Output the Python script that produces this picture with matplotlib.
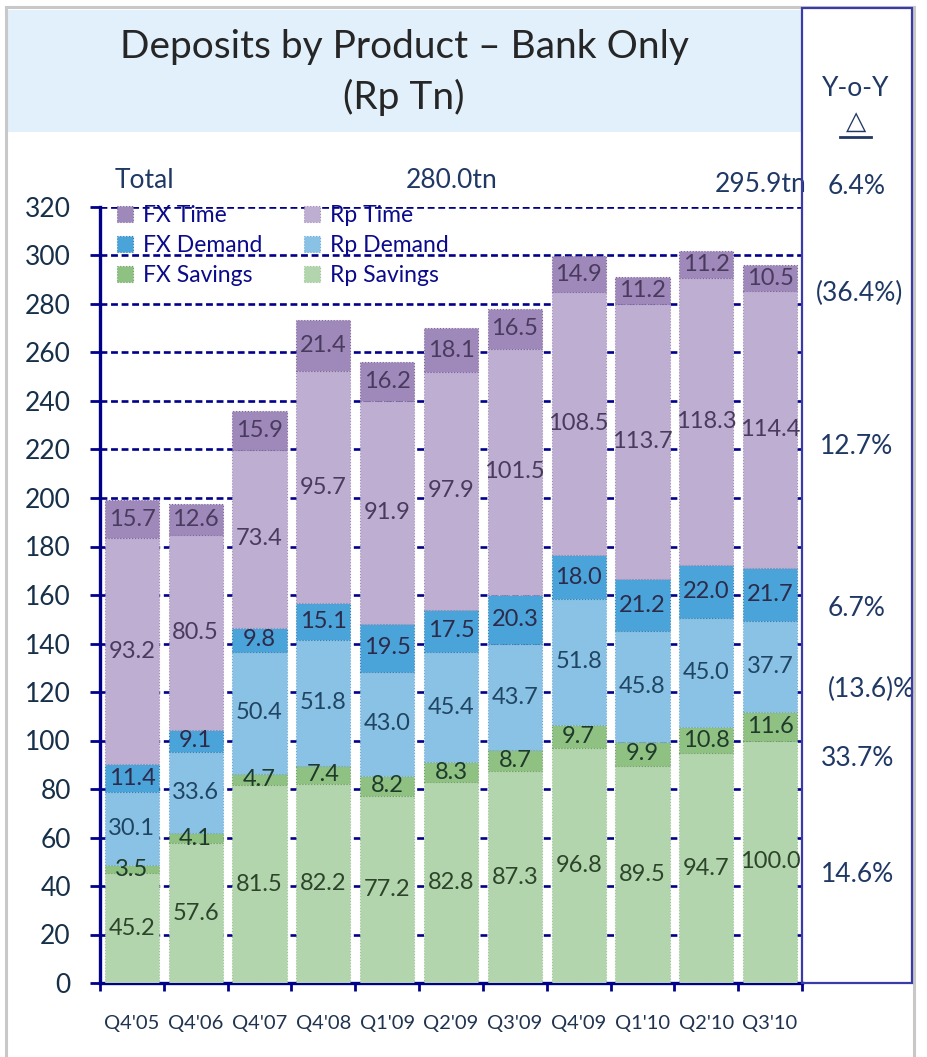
import matplotlib
matplotlib.use("Agg")
import matplotlib.pyplot as plt
from matplotlib.patches import Rectangle
from matplotlib.lines import Line2D
import numpy as np

plt.rcParams['font.family'] = ['Lato', 'DejaVu Sans']

# ---------------- data ----------------
categories = ["Q4'05", "Q4'06", "Q4'07", "Q4'08", "Q1'09", "Q2'09",
              "Q3'09", "Q4'09", "Q1'10", "Q2'10", "Q3'10"]
rp_savings = [45.2, 57.6, 81.5, 82.2, 77.2, 82.8, 87.3, 96.8, 89.5, 94.7, 100.0]
fx_savings = [3.5, 4.1, 4.7, 7.4, 8.2, 8.3, 8.7, 9.7, 9.9, 10.8, 11.6]
rp_demand = [30.1, 33.6, 50.4, 51.8, 43.0, 45.4, 43.7, 51.8, 45.8, 45.0, 37.7]
fx_demand = [11.4, 9.1, 9.8, 15.1, 19.5, 17.5, 20.3, 18.0, 21.2, 22.0, 21.7]
rp_time = [93.2, 80.5, 73.4, 95.7, 91.9, 97.9, 101.5, 108.5, 113.7, 118.3, 114.4]
fx_time = [15.7, 12.6, 15.9, 21.4, 16.2, 18.1, 16.5, 14.9, 11.2, 11.2, 10.5]

series_names = ["Rp Savings", "FX Savings", "Rp Demand", "FX Demand", "Rp Time", "FX Time"]
series_values = [rp_savings, fx_savings, rp_demand, fx_demand, rp_time, fx_time]

yoy_labels = ["6.4%", "(36.4%)", "12.7%", "6.7%", "(13.6)%", "33.7%", "14.6%"]
totals_labels = ["Total", "280.0tn", "295.9tn"]
yticks = list(range(0, 321, 20))

# ---------------- style ----------------
colors = ["#B3D5AD", "#8FC183", "#8AC2E6", "#4BA4D9", "#BEAED2", "#9F88BA"]
edgecols = ["#9CC394", "#6E9E62", "#6FAAD2", "#357FB0", "#A08CB8", "#7D6799"]
textcols = ["#2C452A", "#1F3A2A", "#1F4563", "#2D2A4A", "#4A3B5E", "#4A3B5E"]
navy = "#00008B"
txtnavy = "#1F3864"

W, H = 927, 1057
fig = plt.figure(figsize=(W / 100, H / 100), dpi=100)
fx = lambda x: x / W
fy = lambda y: 1 - y / H

# outer light frame
for (x0, y0, x1, y1) in [(6, 7, 6, H), (914, 7, 914, H), (6, 7, 914, 7)]:
    fig.add_artist(Line2D([fx(x0), fx(x1)], [fy(y0), fy(y1)], color="#C8C8C8", lw=2.2,
                          transform=fig.transFigure))

# title band
fig.add_artist(Rectangle((fx(8), fy(132)), fx(802) - fx(8), fy(10) - fy(132),
                         transform=fig.transFigure, facecolor="#E2F0FC", edgecolor="none", zorder=0))
fig.text(fx(404), fy(47), "Deposits by Product \u2013 Bank Only", ha="center", va="center",
         fontsize=28, color="#262626")
fig.text(fx(404), fy(97), "(Rp Tn)", ha="center", va="center", fontsize=28, color="#262626")

# right Y-o-Y panel
fig.add_artist(Rectangle((fx(802), fy(983)), fx(912) - fx(802), fy(8) - fy(983),
                         transform=fig.transFigure, facecolor="none", edgecolor="#3A3AA8",
                         lw=1.6, zorder=5))

# axes
ax = fig.add_axes([fx(100), fy(983), fx(802) - fx(100), fy(207) - fy(983)])
x = np.arange(len(categories))
bottom = np.zeros(len(categories))
containers = []
for name, vals, c, ec, tc in zip(series_names, series_values, colors, edgecols, textcols):
    vals = np.array(vals)
    bc = ax.bar(x, vals, bottom=bottom, width=0.85, color=c, edgecolor=ec,
                linewidth=0.8, linestyle=":", label=name, zorder=3)
    containers.append(bc)
    ax.bar_label(bc, labels=[f"{v:.1f}" for v in vals], label_type="center",
                 fontsize=17, color=tc, zorder=4)
    bottom = bottom + vals

ax.set_xlim(-0.5, len(categories) - 0.5)
ax.set_ylim(0, 320)
ax.set_yticks(yticks)
ax.set_xticks(x)
ax.set_xticklabels(categories, fontsize=14.5, color="#1F3350")
ax.set_xticks(np.arange(-0.5, len(categories), 1.0), minor=True)
ax.tick_params(axis="x", which="major", length=0, pad=23)
ax.tick_params(axis="x", which="minor", length=6, width=2, color=navy, direction="out")
ax.tick_params(axis="y", which="major", length=7, width=2, color=navy, direction="out",
               labelsize=19, labelcolor="#17304A", pad=14)
ax.set_axisbelow(True)
ax.yaxis.grid(True, color=navy, linestyle=(0, (2.6, 1.4)), linewidth=1.9, zorder=0)
for s in ["top", "right"]:
    ax.spines[s].set_visible(False)
for s in ["left", "bottom"]:
    ax.spines[s].set_color(navy)
    ax.spines[s].set_linewidth(2.4)

# legend (row-major look: FX Time / Rp Time, FX Demand / Rp Demand, FX Savings / Rp Savings)
order = [5, 3, 1, 4, 2, 0]
leg = fig.legend([containers[i] for i in order], [series_names[i] for i in order],
                 loc="upper left", bbox_to_anchor=(fx(117), fy(205)), ncol=2, frameon=False,
                 fontsize=16.5, handlelength=0.7, handleheight=0.7, handletextpad=0.45,
                 columnspacing=1.8, labelspacing=0.4, borderpad=0, borderaxespad=0)
for t in leg.get_texts():
    t.set_color("#0A0A8A")

# totals header
fig.text(fx(115), fy(180), totals_labels[0], ha="left", va="center", fontsize=19, color=txtnavy)
fig.text(fx(452), fy(181), totals_labels[1], ha="center", va="center", fontsize=19, color=txtnavy)
fig.text(fx(807), fy(185), totals_labels[2], ha="right", va="center", fontsize=19, color=txtnavy)

# Y-o-Y panel text
fig.text(fx(856), fy(89), "Y-o-Y", ha="center", va="center", fontsize=19, color=txtnavy)
fig.text(fx(856), fy(122), "\u25B3", ha="center", va="center", fontsize=19, color=txtnavy,
         family=["DejaVu Sans"])
fig.add_artist(Line2D([fx(840), fx(871)], [fy(137), fy(137)], color=txtnavy, lw=2,
                      transform=fig.transFigure))
yoy_pos = [(857, 187, "center"), (860, 293, "center"), (857, 447, "center"),
           (857, 609, "center"), (828, 689, "left"), (858, 758, "center"), (858, 875, "center")]
for lab, (px, py, ha) in zip(yoy_labels, yoy_pos):
    fig.text(fx(px), fy(py), lab, ha=ha, va="center", fontsize=19, color=txtnavy)

fig.savefig("out.png", dpi=100)
